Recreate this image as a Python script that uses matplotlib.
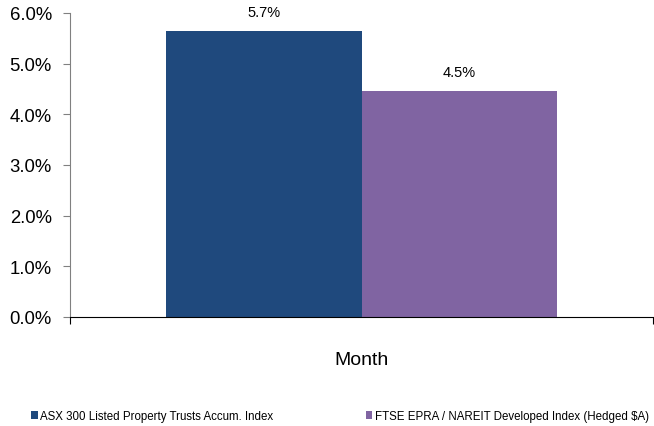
import matplotlib.pyplot as plt
from matplotlib.ticker import FuncFormatter

plt.rcParams['font.family'] = ['Liberation Sans', 'DejaVu Sans']

# data
period = 'Month'
series = ['ASX 300 Listed Property Trusts Accum. Index',
          'FTSE EPRA / NAREIT Developed Index (Hedged $A)']
returns = [5.64, 4.46]
labels = ['5.7%', '4.5%']
colors = ['#1f497d', '#8064a2']

fig = plt.figure(figsize=(6.54, 4.27), dpi=100)
ax = fig.add_axes([70 / 654, 1 - 318 / 427, 583 / 654, 304 / 427])

width = 0.336
offsets = [-width / 2, width / 2]
for name, val, lab, col, off in zip(series, returns, labels, colors, offsets):
    ax.bar(off, val, width=width, color=col, label=name)
    ax.text(off, val + 0.37, lab, ha='center', va='center', fontsize=10.5)

ax.set_xlim(-0.5, 0.5)
ax.set_ylim(0, 6)
ax.set_yticks([0, 1, 2, 3, 4, 5, 6])
ax.yaxis.set_major_formatter(FuncFormatter(lambda v, p: f'{v:.1f}%'))
ax.tick_params(axis='y', labelsize=13.3, length=5, color='#808080', pad=8)
ax.set_xticks([-0.5, 0.5])
ax.set_xticklabels(['', ''])
ax.tick_params(axis='x', length=5, color='black')
ax.text(0, -0.83, period, ha='center', va='center', fontsize=14,
        transform=ax.transData)

for s in ['top', 'right']:
    ax.spines[s].set_visible(False)
ax.spines['left'].set_color('#808080')
ax.spines['bottom'].set_color('black')

fig.legend(loc='center left', bbox_to_anchor=(31 / 654, 10 / 427), ncol=2,
           frameon=False, fontsize=8.3, handlelength=0.6, handleheight=0.6,
           handletextpad=0.2, columnspacing=8.0, borderaxespad=0, borderpad=0)

fig.savefig('out.png', dpi=100)
